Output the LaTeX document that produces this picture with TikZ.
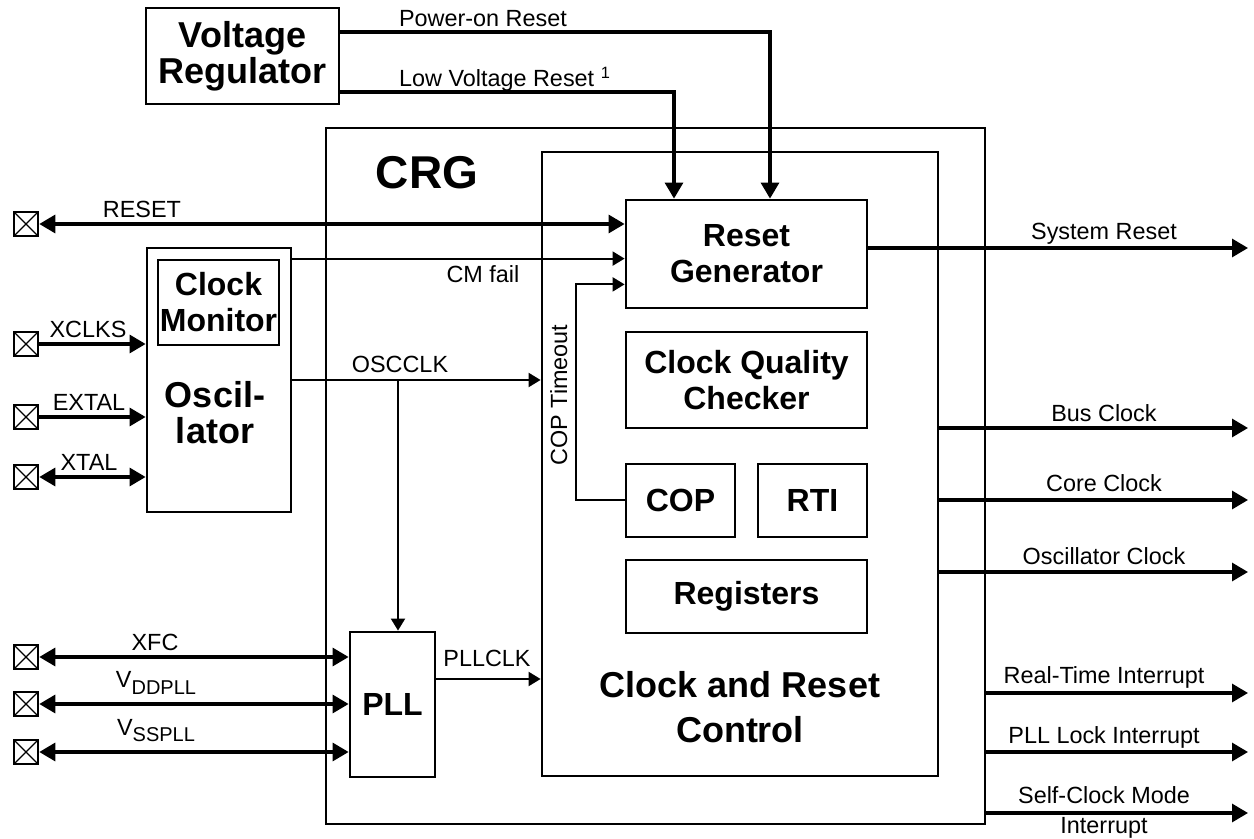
\documentclass[tikz,border=0pt]{standalone}
\usepackage{fontspec}
\setmainfont{Liberation Sans}
\usetikzlibrary{positioning,arrows.meta}
\newcommand\lowsub[1]{\raisebox{-0.5ex}{\fontsize{10}{11}\selectfont #1}}
\tikzset{
  blk/.style={draw,line width=1.4pt,inner sep=0pt,align=center,
    font=\bfseries\fontsize{16}{18}\selectfont},
  encl/.style={draw,line width=1.4pt,inner sep=0pt},
  sig/.style={-{Triangle[length=8pt,width=9pt]},line width=1.6pt},
  sigio/.style={{Triangle[length=8pt,width=9pt]}-{Triangle[length=8pt,width=9pt]},line width=1.6pt},
  wire/.style={-{Triangle[length=6pt,width=7pt]},line width=1pt},
  lbl/.style={font=\fontsize{11.7}{13}\selectfont,inner sep=0pt,anchor=base},
  pad/.style={draw,line width=1.3pt,minimum size=12pt,inner sep=0pt,
    path picture={\draw[line width=0.7pt]
      (path picture bounding box.south west)--(path picture bounding box.north east)
      (path picture bounding box.north west)--(path picture bounding box.south east);}},
}
\begin{document}
\begin{tikzpicture}[x=0.5pt,y=-0.5pt]
  \useasboundingbox (0,0) rectangle (1254,839);
  % CRG frame and the clock and reset control block
  \node[encl,minimum width=329.5pt,minimum height=348pt] (crg) at (655.5,476) {};
  \node[encl,minimum width=198pt,minimum height=312pt] (crc) at (740,464) {};
  \node[font=\bfseries\fontsize{23}{23}\selectfont] (crgT) at (427,173) {CRG};
  \node[align=center,font=\bfseries\fontsize{18}{22.8}\selectfont] (crcT) at (740,707)
    {Clock and Reset\\Control};
  % blocks
  \node[blk,font=\bfseries\fontsize{18}{18}\selectfont,minimum width=96.5pt,minimum height=48pt]
    (vreg) at (242.5,56) {Voltage\\Regulator};
  \node[blk,minimum width=120.5pt,minimum height=54pt] (rg) at (746.5,254) {Reset\\Generator};
  \node[blk,minimum width=120.5pt,minimum height=48pt] (cqc) at (746.5,380) {Clock Quality\\Checker};
  \node[blk,minimum width=54.5pt,minimum height=36.5pt] (cop) at (680.5,500.5) {COP};
  \node[blk,minimum width=54.5pt,minimum height=36.5pt] (rti) at (812.5,500.5) {RTI};
  \node[blk,minimum width=120.5pt,minimum height=36.5pt] (regs) at (746.5,596.5) {Registers};
  \node[encl,minimum width=72pt,minimum height=132pt] (osc) at (219,380) {};
  \node[blk,minimum width=60.5pt,minimum height=42.5pt] (cmon) at (218.5,302.5) {Clock\\Monitor};
  \node[align=center,font=\bfseries\fontsize{18}{18}\selectfont] (oscT) at (215,413) {Oscil-\\lator};
  \node[blk,minimum width=42.5pt,minimum height=72.5pt] (pll) at (392.5,704.5) {PLL};
  % pins
  \foreach \nm/\y in {R/224, XS/344, XE/417, XT/477, XF/657, VD/704, VS/752}
    \node[pad] (p\nm) at (26,\y) {};
  \draw[sigio] (pR.east) -- (pR -| rg.west);
  \draw[sig] (pXS.east) -- (pXS -| osc.west);
  \draw[sig] (pXE.east) -- (pXE -| osc.west);
  \draw[sigio] (pXT.east) -- (pXT -| osc.west);
  \foreach \nm in {XF,VD,VS}
    \draw[sigio] (p\nm.east) -- (p\nm -| pll.west);
  % resets from the regulator
  \draw[sig] ([yshift=12pt]vreg.east) -| ([xshift=11.75pt]rg.north);
  \draw[sig] ([yshift=-18pt]vreg.east) -| ([xshift=-36.25pt]rg.north);
  % internal signals
  \coordinate (cmf) at ([yshift=-6pt]osc.north east);
  \draw[wire] (cmf) -- (cmf -| rg.west);
  \draw[wire] (cop.west) -- ++(-24.5pt,0) |- ([yshift=12.5pt]rg.south west);
  \draw[wire] (osc.east) -- (osc.east -| crc.west);
  \coordinate (tap) at (398,380);
  \draw[wire] (tap) -- (tap |- pll.north);
  \coordinate (pllo) at ([yshift=12.75pt]pll.east);
  \draw[wire] (pllo) -- (pllo -| crc.west);
  % outputs
  \foreach \nm/\y/\src in {SR/248/rg, BC/428/crc, CC/500/crc, OC/572/crc,
                           RT/693/crg, PL/752/crg, SC/813/crg}{
    \coordinate (o\nm) at (1248,\y);
    \draw[sig] (o\nm -| \src.east) -- (o\nm);
  }
  % labels
  \node[lbl] (lPOR) at (483,27) {Power-on Reset};
  \node[lbl] (lLVR) at (505,87) {Low Voltage Reset \textsuperscript{1}};
  \node[lbl] (lRST) at (142,218) {RESET};
  \node[lbl] (lCM) at (483,283) {CM fail};
  \node[lbl,rotate=90] (lCOP) at (567,395) {COP Timeout};
  \node[lbl] (lXS) at (88,338) {XCLKS};
  \node[lbl] (lXE) at (89,411) {EXTAL};
  \node[lbl] (lXT) at (89,471) {XTAL};
  \node[lbl] (lOSC) at (400,373) {OSCCLK};
  \node[lbl] (lXF) at (155,651) {XFC};
  \node[lbl] (lVD) at (156,688) {V\lowsub{DDPLL}};
  \node[lbl] (lVS) at (156,735) {V\lowsub{SSPLL}};
  \node[lbl] (lPLL) at (487,667) {PLLCLK};
  \foreach \nm/\y/\txt in {SR/240/System Reset, BC/422/Bus Clock, CC/492/Core Clock,
      OC/565/Oscillator Clock, RT/683/Real-Time Interrupt, PL/743/PLL Lock Interrupt,
      SC/803/Self-Clock Mode}
    \node[lbl] (l\nm) at (1104,\y) {\txt};
  \node[lbl] (lSC2) at (1104,833) {Interrupt};
\end{tikzpicture}
\end{document}
